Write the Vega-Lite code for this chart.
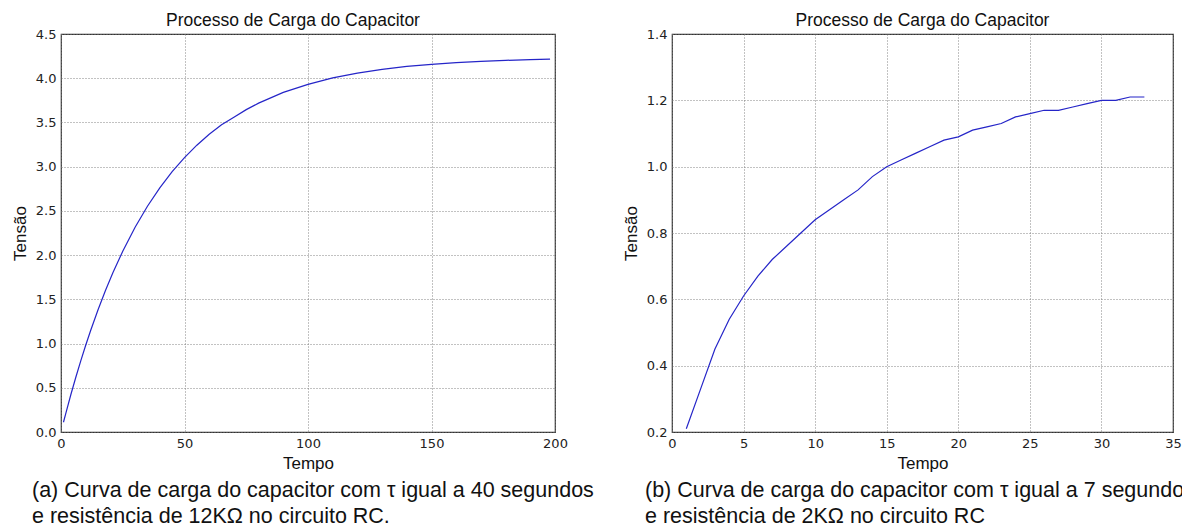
{
  "$schema": "https://vega.github.io/schema/vega-lite/v6.json",
  "background": "white",
  "padding": {"left": 10, "top": 10, "right": 0, "bottom": 0},
  "spacing": 27,
  "config": {
    "font": "Liberation Sans",
    "view": {"stroke": "#333", "strokeWidth": 1.2},
    "axis": {
      "grid": true, "gridColor": "#777", "gridDash": [1, 2], "gridWidth": 0.9,
      "ticks": false, "domain": false,
      "labelFont": "DejaVu Sans", "labelFontSize": 13, "labelColor": "#222",
      "labelPadding": 5, "labelFlush": false, "labelOverlap": false,
      "titleFont": "Liberation Sans", "titleFontSize": 17, "titleFontWeight": "normal", "titleColor": "#111",
      "titlePadding": 5
    },
    "axisY": {"titlePadding": 6},
    "title": {"font": "Liberation Sans", "fontSize": 17.5, "fontWeight": "normal", "color": "#111"}
  },
  "hconcat": [
    {
      "title": {"text": ["(a) Curva de carga do capacitor com τ igual a 40 segundos", "e resistência de 12KΩ no circuito RC."], "orient": "bottom", "anchor": "start", "fontSize": 21.5, "lineHeight": 26, "offset": 8, "frame": "group", "dx": -29, "color": "#111"},
      "vconcat": [
        {
          "width": 494, "height": 398,
          "title": {"text": "Processo de Carga do Capacitor", "offset": -1, "dx": -15},
          "data": {"values": [
            {"tempo": 1, "tensao": 0.110}, {"tempo": 2, "tensao": 0.217}, {"tempo": 4, "tensao": 0.424},
            {"tempo": 6, "tensao": 0.619}, {"tempo": 8, "tensao": 0.805}, {"tempo": 10, "tensao": 0.981},
            {"tempo": 12, "tensao": 1.148}, {"tempo": 15, "tensao": 1.383}, {"tempo": 18, "tensao": 1.600},
            {"tempo": 21, "tensao": 1.800}, {"tempo": 25, "tensao": 2.044}, {"tempo": 30, "tensao": 2.315},
            {"tempo": 35, "tensao": 2.552}, {"tempo": 40, "tensao": 2.760}, {"tempo": 45, "tensao": 2.943},
            {"tempo": 50, "tensao": 3.102}, {"tempo": 55, "tensao": 3.243}, {"tempo": 60, "tensao": 3.366},
            {"tempo": 65, "tensao": 3.473}, {"tempo": 70, "tensao": 3.560}, {"tempo": 75, "tensao": 3.645},
            {"tempo": 80, "tensao": 3.718}, {"tempo": 90, "tensao": 3.840}, {"tempo": 100, "tensao": 3.930},
            {"tempo": 110, "tensao": 4.003}, {"tempo": 120, "tensao": 4.058}, {"tempo": 130, "tensao": 4.100},
            {"tempo": 140, "tensao": 4.133}, {"tempo": 150, "tensao": 4.157}, {"tempo": 160, "tensao": 4.176},
            {"tempo": 170, "tensao": 4.191}, {"tempo": 180, "tensao": 4.202}, {"tempo": 190, "tensao": 4.211},
            {"tempo": 198, "tensao": 4.217}
          ]},
          "mark": {"type": "line", "color": "#2525c8", "strokeWidth": 1.2},
          "encoding": {
            "x": {"field": "tempo", "type": "quantitative", "scale": {"domain": [0, 200], "nice": false}, "axis": {"title": "Tempo", "values": [0, 50, 100, 150, 200]}},
            "y": {"field": "tensao", "type": "quantitative", "scale": {"domain": [0, 4.5], "nice": false}, "axis": {"title": "Tensão", "values": [0, 0.5, 1, 1.5, 2, 2.5, 3, 3.5, 4, 4.5], "format": ".1f"}}
          }
        }
      ]
    },
    {
      "title": {"text": ["(b) Curva de carga do capacitor com τ igual a 7 segundos", "e resistência de 2KΩ no circuito RC"], "orient": "bottom", "anchor": "start", "fontSize": 21.5, "lineHeight": 26, "offset": 8, "frame": "group", "dx": -27, "color": "#111"},
      "vconcat": [
        {
          "width": 501, "height": 398,
          "title": {"text": "Processo de Carga do Capacitor", "offset": -1},
          "data": {"values": [
            {"tempo": 1, "tensao": 0.21}, {"tempo": 2, "tensao": 0.33}, {"tempo": 3, "tensao": 0.45},
            {"tempo": 4, "tensao": 0.54}, {"tempo": 5, "tensao": 0.61}, {"tempo": 6, "tensao": 0.67},
            {"tempo": 7, "tensao": 0.72}, {"tempo": 8, "tensao": 0.76}, {"tempo": 9, "tensao": 0.80},
            {"tempo": 10, "tensao": 0.84}, {"tempo": 11, "tensao": 0.87}, {"tempo": 12, "tensao": 0.90},
            {"tempo": 13, "tensao": 0.93}, {"tempo": 14, "tensao": 0.97}, {"tempo": 15, "tensao": 1.00},
            {"tempo": 16, "tensao": 1.02}, {"tempo": 17, "tensao": 1.04}, {"tempo": 18, "tensao": 1.06},
            {"tempo": 19, "tensao": 1.08}, {"tempo": 20, "tensao": 1.09}, {"tempo": 21, "tensao": 1.11},
            {"tempo": 22, "tensao": 1.12}, {"tempo": 23, "tensao": 1.13}, {"tempo": 24, "tensao": 1.15},
            {"tempo": 25, "tensao": 1.16}, {"tempo": 26, "tensao": 1.17}, {"tempo": 27, "tensao": 1.17},
            {"tempo": 28, "tensao": 1.18}, {"tempo": 29, "tensao": 1.19}, {"tempo": 30, "tensao": 1.20},
            {"tempo": 31, "tensao": 1.20}, {"tempo": 32, "tensao": 1.21}, {"tempo": 33, "tensao": 1.21}
          ]},
          "mark": {"type": "line", "color": "#2525c8", "strokeWidth": 1.2},
          "encoding": {
            "x": {"field": "tempo", "type": "quantitative", "scale": {"domain": [0, 35], "nice": false}, "axis": {"title": "Tempo", "values": [0, 5, 10, 15, 20, 25, 30, 35]}},
            "y": {"field": "tensao", "type": "quantitative", "scale": {"domain": [0.2, 1.4], "nice": false, "zero": false}, "axis": {"title": "Tensão", "values": [0.2, 0.4, 0.6, 0.8, 1.0, 1.2, 1.4], "format": ".1f"}}
          }
        }
      ]
    }
  ]
}
